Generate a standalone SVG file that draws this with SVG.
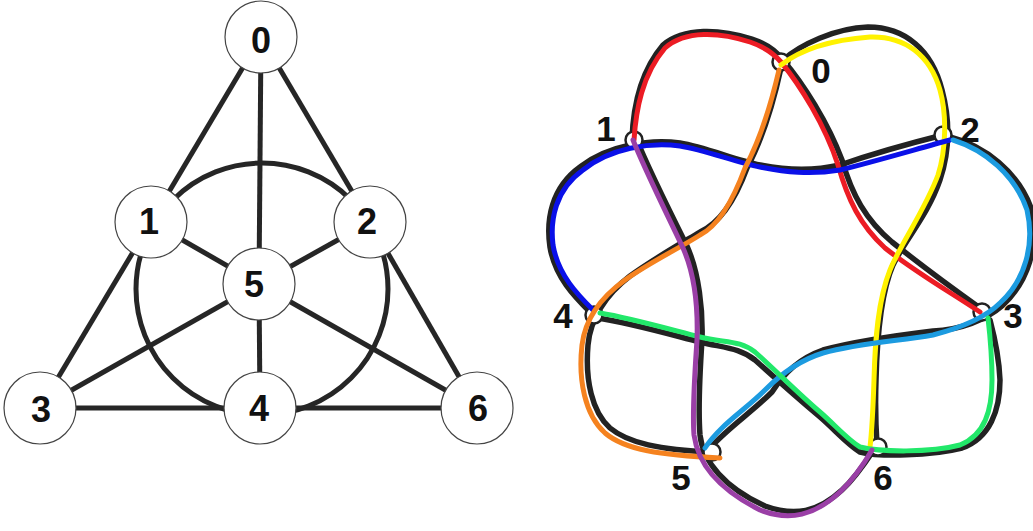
<svg xmlns="http://www.w3.org/2000/svg" width="1033" height="531" viewBox="0 0 1033 531">
<style>
.e{stroke:#262626;stroke-width:5;fill:none}
.n{fill:#fff;stroke:#444;stroke-width:1.2}
.t{font-family:"Liberation Sans",Arial,sans-serif;font-weight:bold;font-size:36px;fill:#111;text-anchor:middle}
.sh{stroke:#222;stroke-width:5.5;fill:none;stroke-linecap:round;stroke-linejoin:round}
.c{stroke-width:5;fill:none;stroke-linecap:round;stroke-linejoin:round}
.k{fill:#fff;stroke:#222;stroke-width:2.5}
.tr{font-family:"Liberation Sans",Arial,sans-serif;font-weight:bold;font-size:35px;fill:#111;text-anchor:middle}
</style>
<rect width="1033" height="531" fill="#fff"/>
<g id="connectors">
<circle class="e" cx="262" cy="289" r="126"/>
<line class="e" x1="261" y1="37" x2="151" y2="222"/>
<line class="e" x1="261" y1="37" x2="370" y2="222"/>
<line class="e" x1="261" y1="37" x2="259" y2="284"/>
<line class="e" x1="151" y1="222" x2="259" y2="284"/>
<line class="e" x1="370" y1="222" x2="259" y2="284"/>
<line class="e" x1="151" y1="222" x2="40" y2="408"/>
<line class="e" x1="370" y1="222" x2="477" y2="408"/>
<line class="e" x1="259" y1="284" x2="40" y2="408"/>
<line class="e" x1="259" y1="284" x2="477" y2="408"/>
<line class="e" x1="259" y1="284" x2="260" y2="408"/>
<line class="e" x1="40" y1="408" x2="260" y2="408"/>
<line class="e" x1="260" y1="408" x2="477" y2="408"/>
</g>
<g id="L0"><circle class="n" cx="261" cy="37" r="36"/><text class="t" x="261" y="53">0</text></g>
<g id="L1"><circle class="n" cx="151" cy="222" r="36"/><text class="t" x="149" y="234">1</text></g>
<g id="L2"><circle class="n" cx="370" cy="222" r="36"/><text class="t" x="367" y="234">2</text></g>
<g id="L5"><circle class="n" cx="259" cy="284" r="36"/><text class="t" x="254" y="297">5</text></g>
<g id="L3"><circle class="n" cx="40" cy="408" r="36"/><text class="t" x="41" y="422">3</text></g>
<g id="L4"><circle class="n" cx="260" cy="408" r="36"/><text class="t" x="259" y="421">4</text></g>
<g id="L6"><circle class="n" cx="477" cy="408" r="36"/><text class="t" x="478" y="421">6</text></g>

<g id="knot-shadows">
<path class="sh" d="M632,140 C633,108 640,72 663,45 C684,27 720,29 752,39 C767,44 777,52 783,60 C803,83 828,123 842,160 C852,195 866,220 892,242 C922,266 952,288 980,308"/>
<path class="sh" d="M783,60 C800,45 835,28 868,27 C905,27 932,50 942,90 C950,120 950,150 940,180 C928,215 905,240 893,265 C880,295 877,340 876,380 C875,410 876,430 877,445"/>
<path class="sh" d="M943,135 C915,142 878,152 840,165 C810,172 785,170 760,165 C735,160 705,147 680,143 C650,139 608,145 580,167 C551,188 546,220 550,247 C555,277 575,297 590,312"/>
<path class="sh" d="M950,137 C985,146 1018,172 1031,208 C1040,245 1028,282 1002,306 C986,320 960,330 933,331 C900,335 860,340 823,350 C800,358 785,372 772,392 C752,412 728,428 712,446"/>
<path class="sh" d="M598,318 C630,323 665,333 700,342 C725,348 740,348 755,360 C775,378 800,400 820,417 C835,430 848,445 860,452 C880,457 930,456 962,448 C990,438 1000,410 1000,380 C999,355 994,335 990,320"/>
<path class="sh" d="M781,68 C774,100 762,140 747,168 C737,195 722,222 700,232 C680,244 655,258 630,276 C605,295 590,320 588,345 C585,380 592,412 610,428 C628,443 660,450 712,452"/>
<path class="sh" d="M636,138 C648,168 668,208 687,246 C699,273 703,310 702,340 C700,370 698,410 700,435 C703,462 725,488 765,506 C795,517 818,512 842,490 C857,476 867,460 875,448"/>
</g>
<g id="R0"><circle class="k" cx="781" cy="62" r="8.5"/><text class="tr" x="821" y="83">0</text></g>
<g id="R1"><circle class="k" cx="634" cy="140" r="8.5"/><text class="tr" x="606" y="141">1</text></g>
<g id="R2"><circle class="k" cx="943" cy="135" r="8.5"/><text class="tr" x="970" y="142">2</text></g>
<g id="R3"><circle class="k" cx="982" cy="312" r="8.5"/><text class="tr" x="1013" y="328">3</text></g>
<g id="R4"><circle class="k" cx="594" cy="315" r="8.5"/><text class="tr" x="563" y="328">4</text></g>
<g id="R5"><circle class="k" cx="712" cy="452" r="8.5"/><text class="tr" x="681" y="490">5</text></g>
<g id="R6"><circle class="k" cx="878" cy="447" r="8.5"/><text class="tr" x="883" y="490">6</text></g>
<g id="knot-strands">
<path class="c" stroke="#ec1c24" d="M634,140 C636,110 642,75 665,48 C685,30 720,32 750,42 C765,47 775,55 781,62 C800,85 825,125 838,165 C848,200 860,225 885,248 C915,272 950,292 980,312"/>
<path class="c" stroke="#fff200" d="M781,65 C800,50 830,40 870,37 C905,36 930,55 940,90 C947,115 946,150 938,175 C925,210 900,245 890,270 C878,300 875,340 874,380 C873,410 872,430 870,447"/>
<path class="c" stroke="#0a10e8" d="M950,140 C920,148 880,160 840,170 C810,175 785,172 760,167 C735,162 705,150 680,146 C650,142 610,148 583,170 C555,190 550,220 553,245 C558,275 578,295 593,310"/>
<path class="c" stroke="#1c9be0" d="M953,140 C985,150 1015,175 1027,210 C1035,245 1025,280 1000,303 C985,318 960,328 933,335 C900,341 860,343 823,353 C800,360 780,375 765,390 C745,410 720,425 705,448"/>
<path class="c" stroke="#22e86a" d="M600,313 C630,318 665,328 700,337 C725,343 740,340 755,352 C775,370 800,395 820,412 C835,425 848,440 860,447 C880,452 930,453 960,445 C985,435 992,410 992,380 C992,355 990,335 988,318"/>
<path class="c" stroke="#f5821f" d="M779,70 C772,100 760,140 745,168 C735,195 720,225 700,235 C680,248 650,262 625,280 C600,298 585,320 582,345 C578,380 585,415 605,433 C625,450 660,455 720,458"/>
<path class="c" stroke="#9a3fa6" d="M633,140 C645,170 665,210 683,248 C695,275 698,310 697,340 C695,370 692,410 694,435 C698,465 720,490 760,510 C790,522 815,515 840,492 C855,478 865,462 872,450"/>
</g>
</svg>
